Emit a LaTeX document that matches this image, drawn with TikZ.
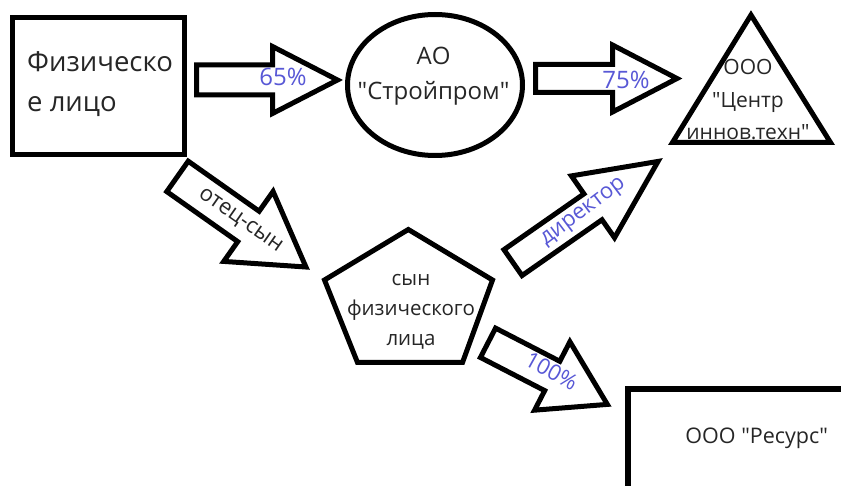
\documentclass[tikz,border=0pt]{standalone}
\usepackage{fontspec}
\setmainfont{Open Sans}[Ligatures=TeXOff]
\definecolor{lbl}{RGB}{88,88,214}
\definecolor{txt}{RGB}{38,38,38}
\newcommand\barrow[7]{%
  \draw[arrowbody, shift={(#1,#2)}, rotate=#3]
    (0,#4) -- (#5,#4) -- (#5,#6) -- (#7,0) -- (#5,-#6) -- (#5,-#4) -- (0,-#4) -- cycle;}
\begin{document}
\begin{tikzpicture}[x=1pt,y=-1pt,
  shapeline/.style={draw=black, line width=5pt, fill=white},
  arrowbody/.style={draw=black, line width=5pt, fill=white, line join=miter},
  maintext/.style={text=txt, inner sep=0pt, align=center},
  lbltext/.style={text=lbl, inner sep=0pt}]
\useasboundingbox (0,0) rectangle (841,486);
\clip (0,0) rectangle (841,486);

% shapes
\draw[shapeline] (12.5,17.5) rectangle (184.5,154.5);
\draw[shapeline] (435,85) ellipse [x radius=87.5, y radius=70.5];
\draw[shapeline] (751,15) -- (830.5,142.5) -- (672.5,142.5) -- cycle;
\draw[shapeline] (408.3,229.5) -- (492.5,280) -- (462.5,362.5) -- (357.5,362.5) -- (324.5,280) -- cycle;
\draw[shapeline, line width=6pt] (628,389) rectangle (870,488.5);

% texts (base anchor = baseline of the last line)
\node[maintext, anchor=base west, align=left, font=\fontsize{27.5}{40}\selectfont] (fiz) at (27,112) {Физическо\\е лицо};
\node[maintext, anchor=base, font=\fontsize{24}{35}\selectfont] (ao) at (433.5,100) {АО\\"Стройпром"};
\node[maintext, anchor=base, font=\fontsize{21}{32.5}\selectfont] (centr) at (748,140) {ООО\\"Центр\\иннов.техн"};
\node[maintext, anchor=base, font=\fontsize{20.5}{30}\selectfont] (son) at (411,345) {сын\\физического\\лица};
\node[maintext, anchor=base, font=\fontsize{21.5}{26}\selectfont] (res) at (756.7,443) {ООО "Ресурс"};

% block arrows
\barrow{196.5}{80}{0}{15}{76}{33.5}{141}
\barrow{535.5}{78.5}{0}{14}{77}{33.5}{141.5}
\barrow{177.5}{176.4}{-35.2}{18.6}{86.8}{42.8}{157.2}
\barrow{513}{262.6}{34.9}{15.8}{97.5}{37.7}{176.8}
\barrow{488}{342.8}{-27.3}{16.5}{72.3}{38.5}{134.3}

% labels
\node[lbltext, font=\fontsize{24}{24}\selectfont] (l65) at (283,76.5) {65\%};
\node[lbltext, font=\fontsize{24}{24}\selectfont] (l75) at (626,79.5) {75\%};
\node[text=txt, inner sep=0pt, rotate=-35, font=\fontsize{22}{22}\selectfont] (lfs) at (240,221) {отец-сын};
\node[lbltext, rotate=37, font=\fontsize{22}{22}\selectfont] (ldir) at (584,213) {директор};
\node[lbltext, rotate=-29, font=\fontsize{22}{22}\selectfont] (l100) at (551.7,371) {100\%};
\end{tikzpicture}
\end{document}
